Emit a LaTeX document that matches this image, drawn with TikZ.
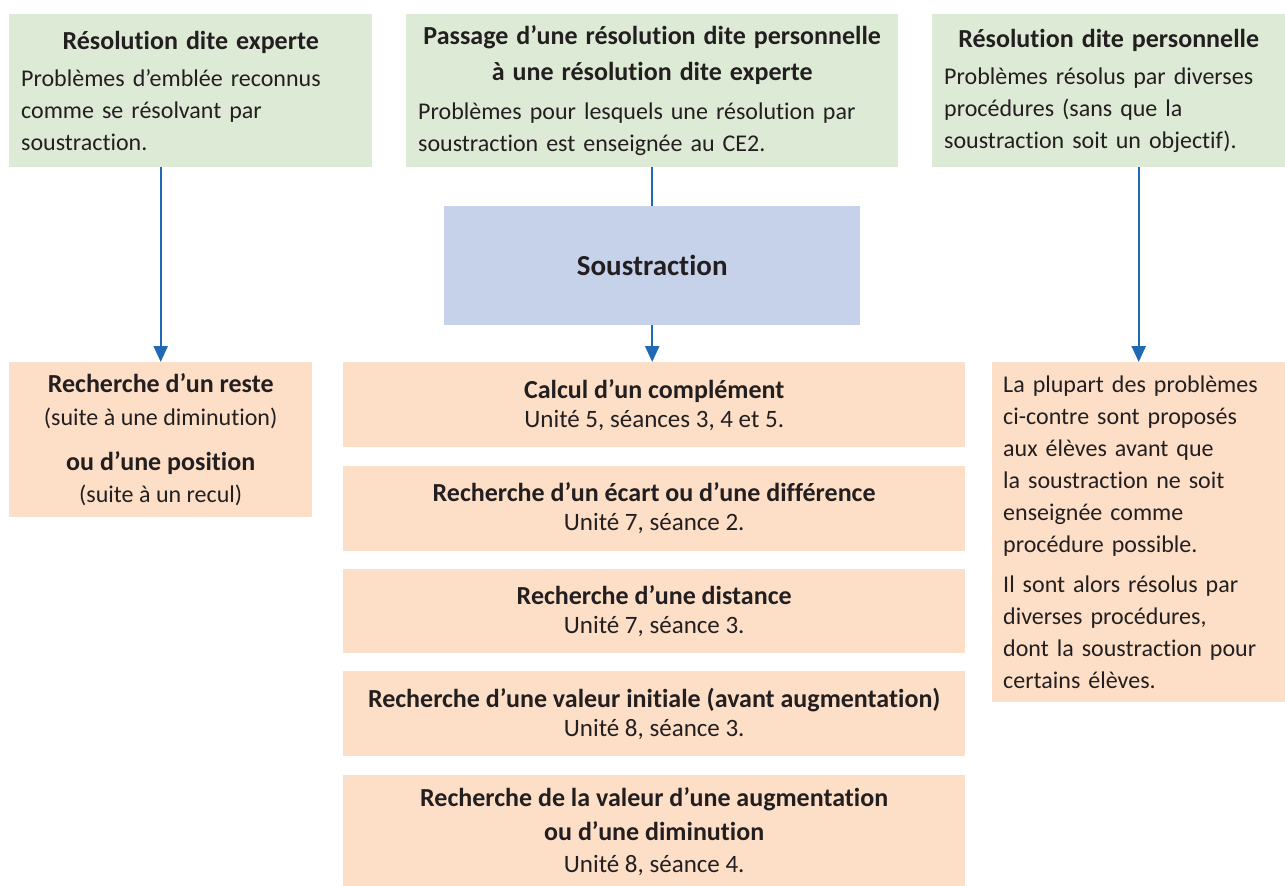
\documentclass[tikz,border=0pt]{standalone}
\usepackage{fontspec}
\setmainfont{Carlito}[Ligatures=NoCommon]
\usetikzlibrary{positioning, arrows.meta}
\definecolor{vertclair}{HTML}{DDEBD6}
\definecolor{bleuclair}{HTML}{C6D2EA}
\definecolor{orangeclair}{HTML}{FDDFC7}
\definecolor{bleufleche}{HTML}{1F69B5}
\definecolor{encre}{HTML}{231F20}
\newcommand\titre[1]{{\fontsize{26}{34}\selectfont\bfseries #1}}
\newcommand\seance[1]{{\fontsize{25}{32}\selectfont #1}}

\begin{document}
\begin{tikzpicture}[
        x=1pt, y=-1pt,
        boite/.style={rectangle, anchor=north west, inner sep=0pt, text=encre,
          font=\fontsize{24}{32}\selectfont},
        verte/.style={boite, fill=vertclair, align=left, inner xsep=12pt,
          minimum height=153pt},
        orangee/.style={boite, fill=orangeclair, align=center},
        etape/.style={orangee, minimum width=622pt, minimum height=85pt},
        fleche/.style={draw=bleufleche, line width=2.4pt},
        pointe/.style={fleche, -{Triangle[width=14pt, length=16pt]}}
      ]
      \useasboundingbox (0,0) rectangle (1285,886);

      % les trois types de resolution
      \node[verte, text width=339pt] (experte) at (9,14)
        {{\centering\titre{Résolution dite experte}\par}\vspace{5pt}
         Problèmes d’emblée reconnus\\ comme se résolvant par\\ soustraction.};
      \node[verte, text width=468pt] (passage) at (406,14)
        {{\centering\titre{Passage d’une résolution dite personnelle}\\[4pt]
          \titre{à une résolution dite experte}\par}\vspace{7pt}
         Problèmes pour lesquels une résolution par\\
         soustraction est enseignée au CE2.};
      \node[verte, text width=329pt] (personnelle) at (932,14)
        {{\centering\titre{Résolution dite personnelle}\par}\vspace{5pt}
         Problèmes résolus par diverses\\ procédures (sans que la\\
         soustraction soit un objectif).};

      \node[boite, fill=bleuclair, align=center, minimum width=416pt,
        minimum height=119pt, font=\fontsize{29}{34}\selectfont\bfseries]
        (soustraction) at (444,206) {Soustraction};

      % colonne de gauche
      \node[orangee, minimum width=303pt, minimum height=155pt] (reste) at (9,362)
        {\titre{Recherche d’un reste}\\[1pt] (suite à une diminution)\\[13pt]
         \titre{ou d’une position}\\ (suite à un recul)};

      % colonne du milieu
      \node[etape] (complement) at (343,362)
        {\titre{Calcul d’un complément}\\[-3pt] \seance{Unité 5, séances 3, 4 et 5.}};
      \node[etape, below=18pt of complement] (ecart)
        {\titre{Recherche d’un écart ou d’une différence}\\[-3pt]
         \seance{Unité 7, séance 2.}};
      \node[etape, minimum height=84pt, below=18pt of ecart] (distance)
        {\titre{Recherche d’une distance}\\[-3pt] \seance{Unité 7, séance 3.}};
      \node[etape, below=18pt of distance] (initiale)
        {\titre{Recherche d’une valeur initiale (avant augmentation)}\\[-3pt]
         \seance{Unité 8, séance 3.}};
      \node[etape, minimum height=113pt, below=18pt of initiale] (augmentation)
        {\titre{Recherche de la valeur d’une augmentation}\\[2pt]
         \titre{ou d’une diminution}\\ \seance{Unité 8, séance 4.}};

      % colonne de droite
      \node[orangee, align=left, inner xsep=11pt, text width=271pt,
        minimum height=340pt] (plupart) at (992,362)
        {La plupart des problèmes\\ ci-contre sont proposés\\
         aux élèves avant que\\ la soustraction ne soit\\
         enseignée comme\\ procédure possible.\\[8pt]
         Il sont alors résolus par\\ diverses procédures,\\
         dont la soustraction pour\\ certains élèves.};

      % fleches
      \draw[pointe] (reste.north |- experte.south) -- (reste.north);
      \draw[fleche] (soustraction.north |- passage.south) -- (soustraction.north);
      \draw[pointe] (soustraction.south) -- (soustraction.south |- complement.north);
      \draw[pointe] (plupart.north |- personnelle.south) -- (plupart.north);
\end{tikzpicture}
\end{document}
